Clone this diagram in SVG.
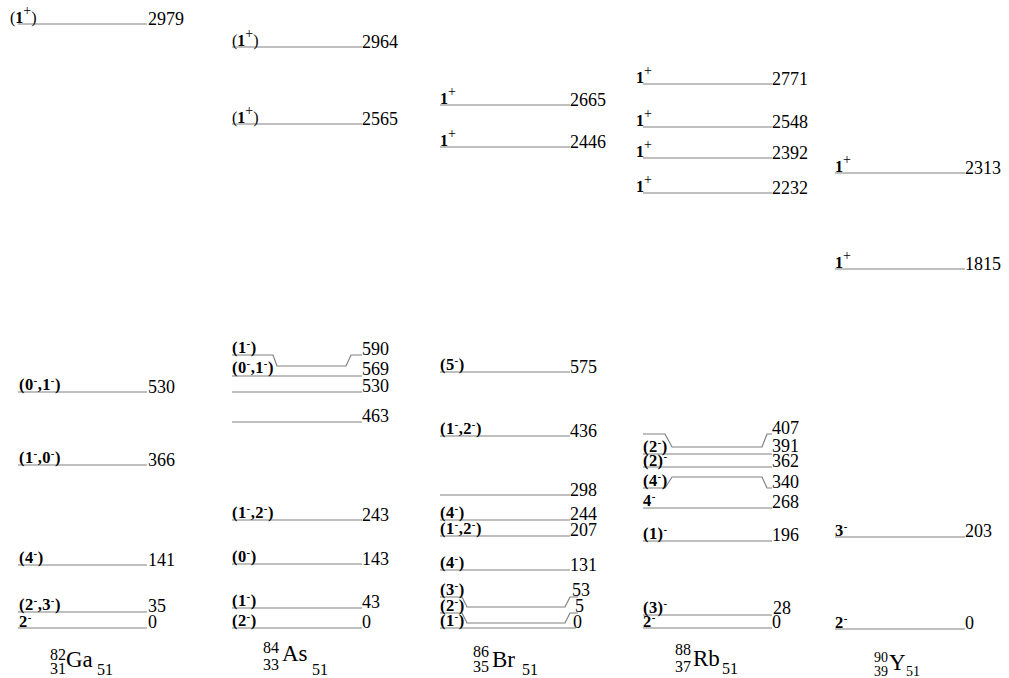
<svg xmlns="http://www.w3.org/2000/svg" width="1009" height="678" viewBox="0 0 1009 678" font-family="'Liberation Serif', 'Times New Roman', Times, serif">
<style>
.lv{fill:none;stroke:#808080;stroke-width:1.2}
text{font-family:'Liberation Serif','Times New Roman',Times,serif;fill:#000}
.e{font-size:18px}
.j{font-size:16.5px;font-weight:bold;letter-spacing:0.4px}
.m{font-size:11px;font-weight:bold}
.o{font-size:16px}
.b{font-weight:bold}
.p{font-size:14px;font-weight:normal}
.n{font-size:23px}
.s{font-size:16px}
.t{font-size:14px}
</style>
<rect width="1009" height="678" fill="#fff"/>
<g id="connectors"></g>

<g id="Ga82">
 <g id="Ga-2979"><path class="lv" d="M18,24H147"/><text class="o" x="10" y="23">(<tspan class="b">1</tspan><tspan class="p" dy="-8">+</tspan><tspan dy="8">)</tspan></text><text class="e" x="148" y="25">2979</text></g>
 <g id="Ga-530"><path class="lv" d="M18,392H147"/><text class="j" x="19" y="390">(0<tspan class="m" dy="-6">-</tspan><tspan dy="6">,1</tspan><tspan class="m" dy="-6">-</tspan><tspan dy="6">)</tspan></text><text class="e" x="148" y="393">530</text></g>
 <g id="Ga-366"><path class="lv" d="M18,465H147"/><text class="j" x="19" y="463">(1<tspan class="m" dy="-6">-</tspan><tspan dy="6">,0</tspan><tspan class="m" dy="-6">-</tspan><tspan dy="6">)</tspan></text><text class="e" x="148" y="466">366</text></g>
 <g id="Ga-141"><path class="lv" d="M18,565H147"/><text class="j" x="19" y="563">(4<tspan class="m" dy="-6">-</tspan><tspan dy="6">)</tspan></text><text class="e" x="148" y="566">141</text></g>
 <g id="Ga-35"><path class="lv" d="M18,612H147"/><text class="j" x="19" y="610">(2<tspan class="m" dy="-6">-</tspan><tspan dy="6">,3</tspan><tspan class="m" dy="-6">-</tspan><tspan dy="6">)</tspan></text><text class="e" x="148" y="612">35</text></g>
 <g id="Ga-0"><path class="lv" d="M18,628H147"/><text class="j" x="19" y="627">2<tspan class="m" dy="-6">-</tspan></text><text class="e" x="148" y="628">0</text></g>
 <g id="Ga-name"><text class="s" x="50" y="660">82</text><text class="s" x="50" y="674">31</text><text class="n" x="66" y="667">Ga</text><text class="s" x="97" y="675">51</text></g>
</g>

<g id="As84">
 <g id="As-2964"><path class="lv" d="M232,47H362"/><text class="o" x="232" y="46">(<tspan class="b">1</tspan><tspan class="p" dy="-8">+</tspan><tspan dy="8">)</tspan></text><text class="e" x="362" y="48">2964</text></g>
 <g id="As-2565"><path class="lv" d="M232,124H362"/><text class="o" x="232" y="123">(<tspan class="b">1</tspan><tspan class="p" dy="-8">+</tspan><tspan dy="8">)</tspan></text><text class="e" x="362" y="125">2565</text></g>
 <g id="As-590"><path class="lv" d="M232,355H273L277,366H346L351,355H362"/><text class="j" x="232" y="353">(1<tspan class="m" dy="-6">-</tspan><tspan dy="6">)</tspan></text><text class="e" x="362" y="355">590</text></g>
 <g id="As-569"><path class="lv" d="M232,376H362"/><text class="j" x="232" y="373">(0<tspan class="m" dy="-6">-</tspan><tspan dy="6">,1</tspan><tspan class="m" dy="-6">-</tspan><tspan dy="6">)</tspan></text><text class="e" x="362" y="375">569</text></g>
 <g id="As-530"><path class="lv" d="M232,392H362"/><text class="e" x="362" y="392">530</text></g>
 <g id="As-463"><path class="lv" d="M232,422H362"/><text class="e" x="362" y="422">463</text></g>
 <g id="As-243"><path class="lv" d="M232,520H362"/><text class="j" x="232" y="518">(1<tspan class="m" dy="-6">-</tspan><tspan dy="6">,2</tspan><tspan class="m" dy="-6">-</tspan><tspan dy="6">)</tspan></text><text class="e" x="362" y="521">243</text></g>
 <g id="As-143"><path class="lv" d="M232,564H362"/><text class="j" x="232" y="562">(0<tspan class="m" dy="-6">-</tspan><tspan dy="6">)</tspan></text><text class="e" x="362" y="565">143</text></g>
 <g id="As-43"><path class="lv" d="M232,608H362"/><text class="j" x="232" y="606">(1<tspan class="m" dy="-6">-</tspan><tspan dy="6">)</tspan></text><text class="e" x="362" y="608">43</text></g>
 <g id="As-0"><path class="lv" d="M232,628H362"/><text class="j" x="232" y="626">(2<tspan class="m" dy="-6">-</tspan><tspan dy="6">)</tspan></text><text class="e" x="362" y="628">0</text></g>
 <g id="As-name"><text class="s" x="263" y="653">84</text><text class="s" x="263" y="670">33</text><text class="n" x="282" y="661">As</text><text class="s" x="312" y="675">51</text></g>
</g>

<g id="Br86">
 <g id="Br-2665"><path class="lv" d="M440,105H570"/><text class="o" x="440" y="104"><tspan class="b">1</tspan><tspan class="p" dy="-8">+</tspan></text><text class="e" x="570" y="106">2665</text></g>
 <g id="Br-2446"><path class="lv" d="M440,147H570"/><text class="o" x="440" y="146"><tspan class="b">1</tspan><tspan class="p" dy="-8">+</tspan></text><text class="e" x="570" y="148">2446</text></g>
 <g id="Br-575"><path class="lv" d="M440,372H570"/><text class="j" x="440" y="370">(5<tspan class="m" dy="-6">-</tspan><tspan dy="6">)</tspan></text><text class="e" x="570" y="373">575</text></g>
 <g id="Br-436"><path class="lv" d="M440,436H570"/><text class="j" x="440" y="434">(1<tspan class="m" dy="-6">-</tspan><tspan dy="6">,2</tspan><tspan class="m" dy="-6">-</tspan><tspan dy="6">)</tspan></text><text class="e" x="570" y="437">436</text></g>
 <g id="Br-298"><path class="lv" d="M440,495H570"/><text class="e" x="570" y="496">298</text></g>
 <g id="Br-244"><path class="lv" d="M440,520H570"/><text class="j" x="440" y="518">(4<tspan class="m" dy="-6">-</tspan><tspan dy="6">)</tspan></text><text class="e" x="570" y="520">244</text></g>
 <g id="Br-207"><path class="lv" d="M440,536H570"/><text class="j" x="440" y="534">(1<tspan class="m" dy="-6">-</tspan><tspan dy="6">,2</tspan><tspan class="m" dy="-6">-</tspan><tspan dy="6">)</tspan></text><text class="e" x="570" y="536">207</text></g>
 <g id="Br-131"><path class="lv" d="M440,570H570"/><text class="j" x="440" y="568">(4<tspan class="m" dy="-6">-</tspan><tspan dy="6">)</tspan></text><text class="e" x="570" y="571">131</text></g>
 <g id="Br-53"><path class="lv" d="M440,597H462L467,607H565L570,597H578"/><text class="j" x="440" y="595">(3<tspan class="m" dy="-6">-</tspan><tspan dy="6">)</tspan></text><text class="e" x="572" y="596">53</text></g>
 <g id="Br-5"><path class="lv" d="M440,613H462L467,623H565L570,613H578"/><text class="j" x="440" y="611">(2<tspan class="m" dy="-6">-</tspan><tspan dy="6">)</tspan></text><text class="e" x="575" y="612">5</text></g>
 <g id="Br-0"><path class="lv" d="M440,628H576"/><text class="j" x="440" y="626">(1<tspan class="m" dy="-6">-</tspan><tspan dy="6">)</tspan></text><text class="e" x="573" y="628">0</text></g>
 <g id="Br-name"><text class="s" x="473" y="657">86</text><text class="s" x="473" y="672">35</text><text class="n" x="492" y="667">Br</text><text class="s" x="522" y="675">51</text></g>
</g>

<g id="Rb88">
 <g id="Rb-2771"><path class="lv" d="M643,84H772"/><text class="o" x="636" y="83"><tspan class="b">1</tspan><tspan class="p" dy="-8">+</tspan></text><text class="e" x="772" y="85">2771</text></g>
 <g id="Rb-2548"><path class="lv" d="M643,127H772"/><text class="o" x="636" y="126"><tspan class="b">1</tspan><tspan class="p" dy="-8">+</tspan></text><text class="e" x="772" y="128">2548</text></g>
 <g id="Rb-2392"><path class="lv" d="M643,158H772"/><text class="o" x="636" y="157"><tspan class="b">1</tspan><tspan class="p" dy="-8">+</tspan></text><text class="e" x="772" y="159">2392</text></g>
 <g id="Rb-2232"><path class="lv" d="M643,193H772"/><text class="o" x="636" y="192"><tspan class="b">1</tspan><tspan class="p" dy="-8">+</tspan></text><text class="e" x="772" y="194">2232</text></g>
 <g id="Rb-407"><path class="lv" d="M643,434H665L672,447H762L767,434H772"/><text class="e" x="772" y="434">407</text></g>
 <g id="Rb-391"><path class="lv" d="M643,454H772"/><text class="j" x="643" y="452">(2<tspan class="m" dy="-6">-</tspan><tspan dy="6">)</tspan></text><text class="e" x="772" y="452">391</text></g>
 <g id="Rb-362"><path class="lv" d="M643,467H772"/><text class="j" x="643" y="466">(2)<tspan class="m" dy="-6">-</tspan></text><text class="e" x="772" y="467">362</text></g>
 <g id="Rb-340"><path class="lv" d="M643,488H665L672,477H762L767,488H772"/><text class="j" x="643" y="486">(4<tspan class="m" dy="-6">-</tspan><tspan dy="6">)</tspan></text><text class="e" x="772" y="488">340</text></g>
 <g id="Rb-268"><path class="lv" d="M643,508H772"/><text class="j" x="643" y="506">4<tspan class="m" dy="-6">-</tspan></text><text class="e" x="772" y="508">268</text></g>
 <g id="Rb-196"><path class="lv" d="M643,541H772"/><text class="j" x="643" y="539">(1)<tspan class="m" dy="-6">-</tspan></text><text class="e" x="772" y="541">196</text></g>
 <g id="Rb-28"><path class="lv" d="M643,615H772"/><text class="j" x="643" y="613">(3)<tspan class="m" dy="-6">-</tspan></text><text class="e" x="773" y="614">28</text></g>
 <g id="Rb-0"><path class="lv" d="M643,628H772"/><text class="j" x="643" y="627">2<tspan class="m" dy="-6">-</tspan></text><text class="e" x="772" y="628">0</text></g>
 <g id="Rb-name"><text class="s" x="675" y="655">88</text><text class="s" x="675" y="672">37</text><text class="n" x="693" y="666">Rb</text><text class="s" x="722" y="674">51</text></g>
</g>

<g id="Y90">
 <g id="Y-2313"><path class="lv" d="M835,173H965"/><text class="o" x="835" y="172"><tspan class="b">1</tspan><tspan class="p" dy="-8">+</tspan></text><text class="e" x="965" y="174">2313</text></g>
 <g id="Y-1815"><path class="lv" d="M835,269H965"/><text class="o" x="835" y="268"><tspan class="b">1</tspan><tspan class="p" dy="-8">+</tspan></text><text class="e" x="965" y="270">1815</text></g>
 <g id="Y-203"><path class="lv" d="M835,537H965"/><text class="j" x="835" y="536">3<tspan class="m" dy="-6">-</tspan></text><text class="e" x="965" y="537">203</text></g>
 <g id="Y-0"><path class="lv" d="M835,629H965"/><text class="j" x="835" y="628">2<tspan class="m" dy="-6">-</tspan></text><text class="e" x="965" y="629">0</text></g>
 <g id="Y-name"><text class="t" x="874" y="662">90</text><text class="t" x="874" y="676">39</text><text class="n" x="889" y="670">Y</text><text class="t" x="906" y="676">51</text></g>
</g>
</svg>
